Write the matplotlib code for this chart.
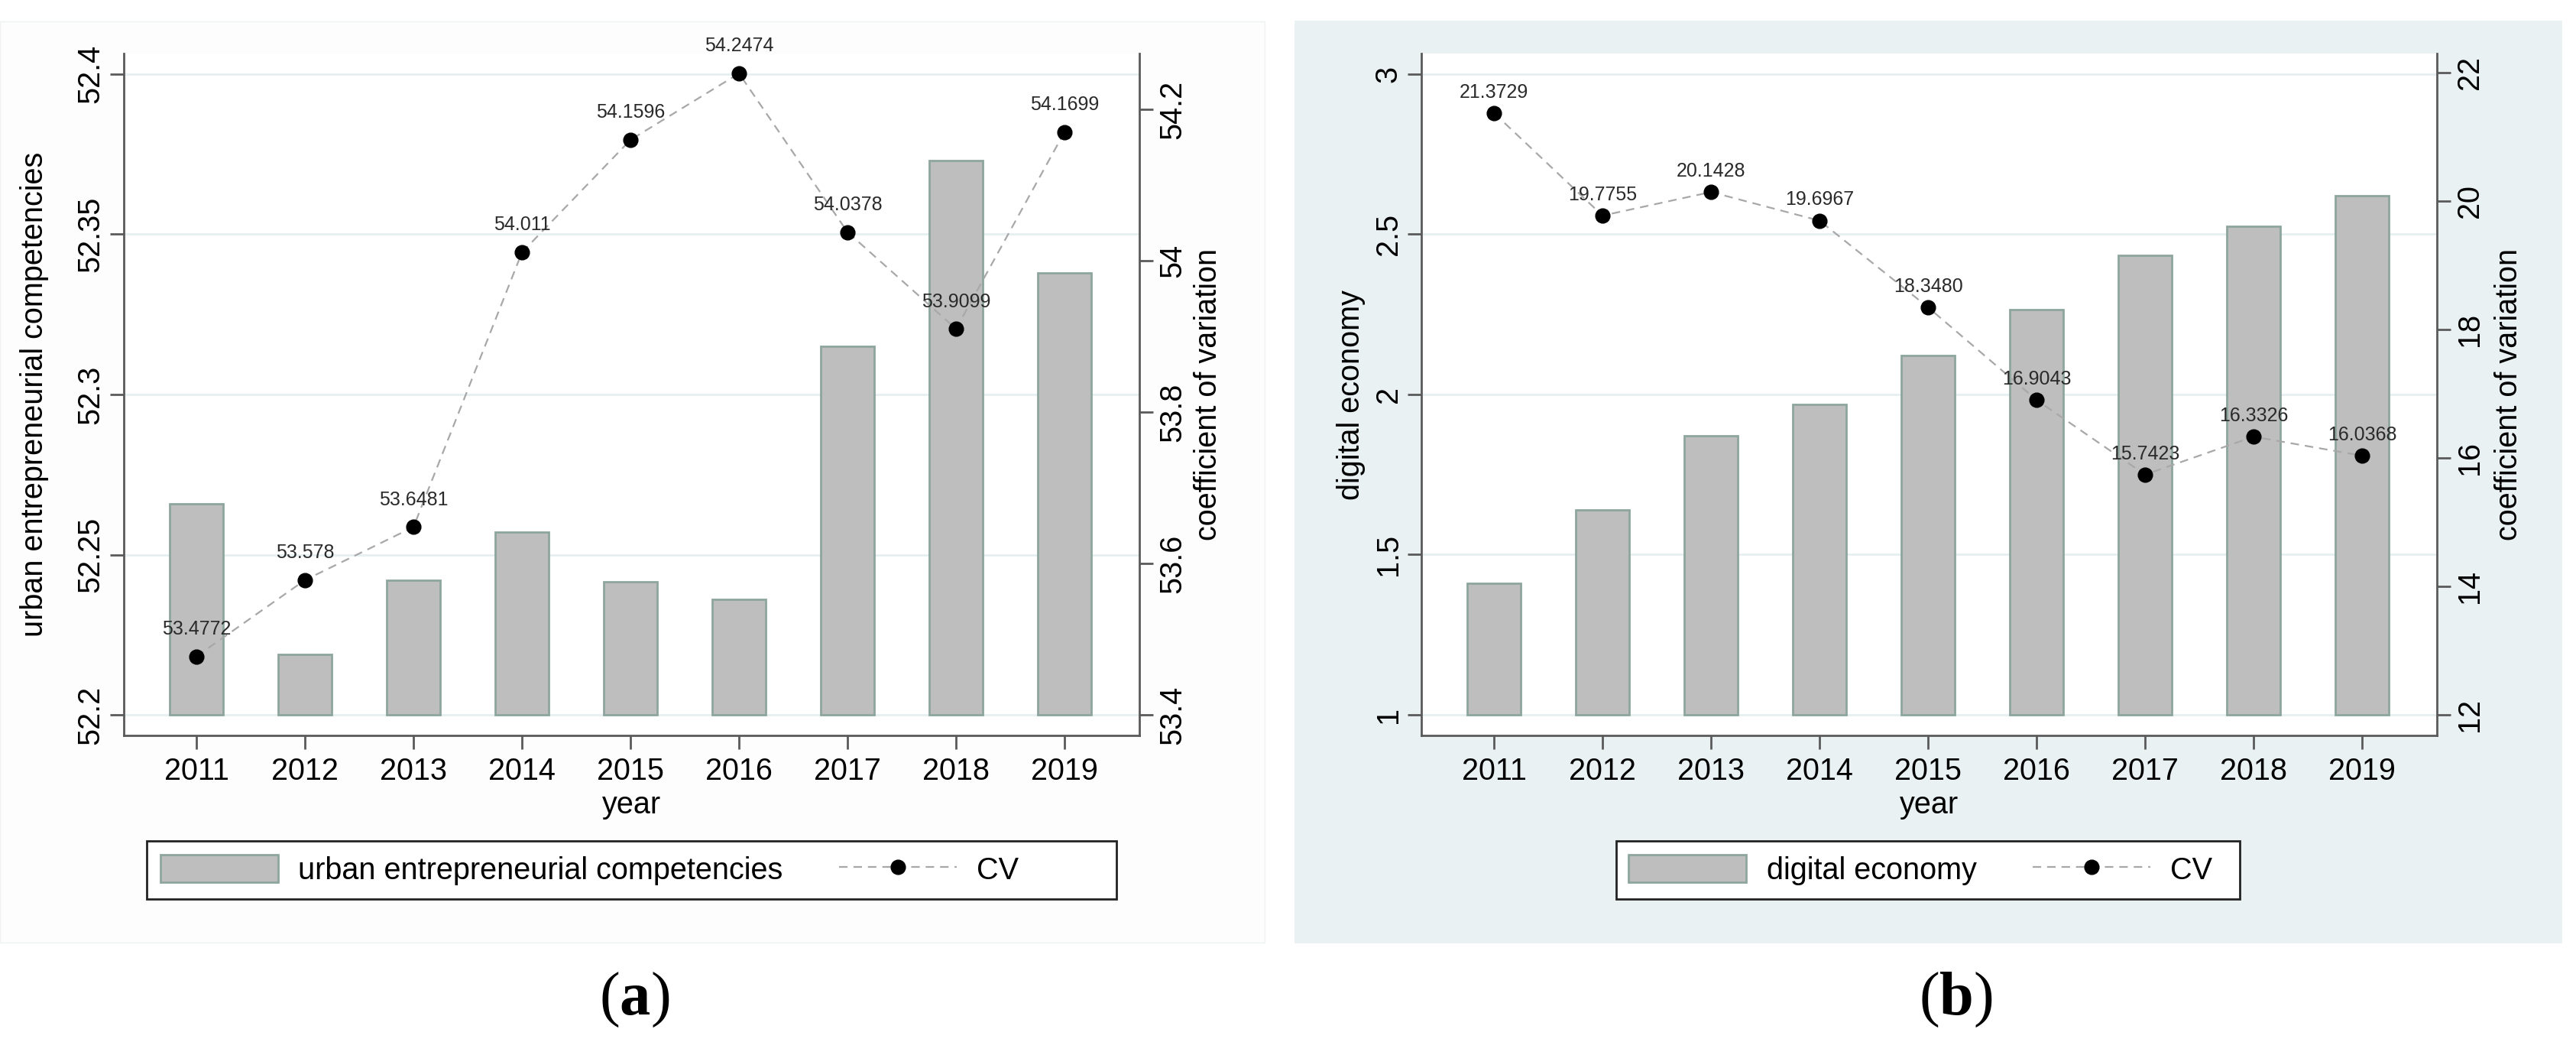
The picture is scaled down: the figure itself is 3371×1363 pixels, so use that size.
import matplotlib.pyplot as plt
from matplotlib.patches import Rectangle

plt.rcParams['font.family'] = ['Liberation Sans', 'DejaVu Sans']
plt.rcParams['mathtext.fontset'] = 'custom'
plt.rcParams['mathtext.rm'] = 'Liberation Serif'
plt.rcParams['mathtext.bf'] = 'Liberation Serif:bold'

# data
years = [2011, 2012, 2013, 2014, 2015, 2016, 2017, 2018, 2019]
year_labels = [str(y) for y in years]

uec = [52.266, 52.219, 52.242, 52.257, 52.2415, 52.236, 52.315, 52.373, 52.338]
cv_uec = [53.4772, 53.578, 53.6481, 54.011, 54.1596, 54.2474, 54.0378, 53.9099, 54.1699]
cv_uec_labels = ['53.4772', '53.578', '53.6481', '54.011', '54.1596',
                 '54.2474', '54.0378', '53.9099', '54.1699']

dig = [1.41, 1.64, 1.871, 1.969, 2.122, 2.265, 2.434, 2.525, 2.62]
cv_dig = [21.3729, 19.7755, 20.1428, 19.6967, 18.3480, 16.9043, 15.7423, 16.3326, 16.0368]
cv_dig_labels = ['21.3729', '19.7755', '20.1428', '19.6967', '18.3480',
                 '16.9043', '15.7423', '16.3326', '16.0368']

ticks_uec = [52.2, 52.25, 52.3, 52.35, 52.4]
ticklabels_uec = ['52.2', '52.25', '52.3', '52.35', '52.4']
ticks_cv_uec = [53.4, 53.6, 53.8, 54.0, 54.2]
ticklabels_cv_uec = ['53.4', '53.6', '53.8', '54', '54.2']

ticks_dig = [1, 1.5, 2, 2.5, 3]
ticklabels_dig = ['1', '1.5', '2', '2.5', '3']
ticks_cv_dig = [12, 14, 16, 18, 20, 22]
ticklabels_cv_dig = ['12', '14', '16', '18', '20', '22']

W, H = 3371, 1363
BAR_FILL = '#bebebe'
BAR_EDGE = '#8da69d'
AXIS_COL = '#5a5a5a'
FS = 28.5


def fx(x):
    return x / W


def fy(y):
    return 1 - y / H


def panel(fig, left_px, bars, base, ylim, yticks, yticklabels, ylabel, ylabel_x,
          cv, cv_labels, ylim2, yticks2, yticklabels2, ylabel2_x, label_off,
          legend_label, legend_x, frame_x0, frame_x1):
    ax = fig.add_axes([fx(left_px), fy(962), (1329) / W, (962 - 70) / H])
    ax.set_facecolor('white')
    heights = [b - base for b in bars]
    bc = ax.bar(years, heights, bottom=base, width=0.49, color=BAR_FILL,
                edgecolor=BAR_EDGE, linewidth=2, label=legend_label)
    ax.set_xlim(2010.33, 2019.69)
    ax.set_ylim(*ylim)
    ax.set_axisbelow(True)
    ax.yaxis.grid(True, color='#e6eff1', linewidth=2)
    ax.set_xticks(years, year_labels)
    ax.set_yticks(yticks, yticklabels, rotation=90, va='center')
    ax.tick_params(axis='x', direction='out', length=13, width=2,
                   color=AXIS_COL, labelsize=FS, pad=7)
    ax.tick_params(axis='y', direction='out', length=13, width=2,
                   color=AXIS_COL, labelsize=FS, pad=4.5)
    ax.set_xlabel('year', fontsize=FS, va='center')
    ax.xaxis.set_label_coords(0.5, -0.102)
    ax.set_ylabel(ylabel, fontsize=FS, va='center')
    ax.yaxis.set_label_coords(ylabel_x, 0.5)
    for s in ['top', 'right']:
        ax.spines[s].set_visible(False)
    for s in ['left', 'bottom']:
        ax.spines[s].set_color(AXIS_COL)
        ax.spines[s].set_linewidth(2)

    ax2 = ax.twinx()
    line, = ax2.plot(years, cv, color='#a8a8a8', linewidth=1.6,
                     linestyle=(0, (5, 3.5)), marker='o', markersize=13.5,
                     markerfacecolor='black', markeredgecolor='black', label='CV')
    for yr, v, t in zip(years, cv, cv_labels):
        ax2.annotate(t, (yr, v), xytext=(0, label_off), textcoords='offset points',
                     ha='center', va='bottom', fontsize=18, color='#2a2a2a')
    ax2.set_ylim(*ylim2)
    ax2.set_yticks(yticks2, yticklabels2, rotation=90, va='center')
    ax2.tick_params(axis='y', direction='out', length=13, width=2,
                    color=AXIS_COL, labelsize=FS, pad=4.5)
    ax2.set_ylabel('coefficient of variation', fontsize=FS, va='center')
    ax2.yaxis.set_label_coords(ylabel2_x, 0.5)
    for s in ['top', 'left', 'bottom']:
        ax2.spines[s].set_visible(False)
    ax2.spines['right'].set_color(AXIS_COL)
    ax2.spines['right'].set_linewidth(2)

    # legend with a Stata-like box below the plot
    fig.add_artist(Rectangle((fx(frame_x0), fy(1176)), (frame_x1 - frame_x0) / W, 76 / H,
                             transform=fig.transFigure, facecolor='white',
                             edgecolor='#222222', linewidth=2, zorder=1))
    fig.legend([bc, line], [legend_label, 'CV'], loc='center left',
               bbox_to_anchor=(fx(legend_x), fy(1138)), bbox_transform=fig.transFigure,
               ncol=2, frameon=False, fontsize=FS, borderpad=0, borderaxespad=0,
               handlelength=3.9, handleheight=1.0, handletextpad=0.66,
               columnspacing=1.85, numpoints=1)
    return ax, ax2


fig = plt.figure(figsize=(W / 100, H / 100), dpi=100)

# panel backgrounds
fig.add_artist(Rectangle((0, fy(1233)), 1655 / W, (1233 - 28) / H, transform=fig.transFigure,
                         facecolor='#fdfdfd', edgecolor='#eef2f2', linewidth=1, zorder=-1))
fig.add_artist(Rectangle((fx(1694), fy(1234)), 1659 / W, (1234 - 27) / H,
                         transform=fig.transFigure, facecolor='#e9f1f3',
                         edgecolor='none', zorder=-1))

panel(fig, 162, uec, 52.2, (52.1936, 52.4064), ticks_uec, ticklabels_uec,
      'urban entrepreneurial competencies', -0.0877,
      cv_uec, cv_uec_labels, (53.3727, 54.2737), ticks_cv_uec, ticklabels_cv_uec, 1.0677, 17,
      'urban entrepreneurial competencies', 210, 192, 1461)

panel(fig, 1860, dig, 1.0, (0.9356, 3.064), ticks_dig, ticklabels_dig,
      'digital economy', -0.0693,
      cv_dig, cv_dig_labels, (11.68, 22.30), ticks_cv_dig, ticklabels_cv_dig, 1.0708, 11,
      'digital economy', 2131, 2115, 2931)

fig.text(fx(830), fy(1308), r'($\mathbf{a}$)', family='Liberation Serif',
         fontsize=58, ha='center', va='center')
fig.text(fx(2559), fy(1308), r'($\mathbf{b}$)', family='Liberation Serif',
         fontsize=58, ha='center', va='center')

fig.savefig('out.png', dpi=100)
